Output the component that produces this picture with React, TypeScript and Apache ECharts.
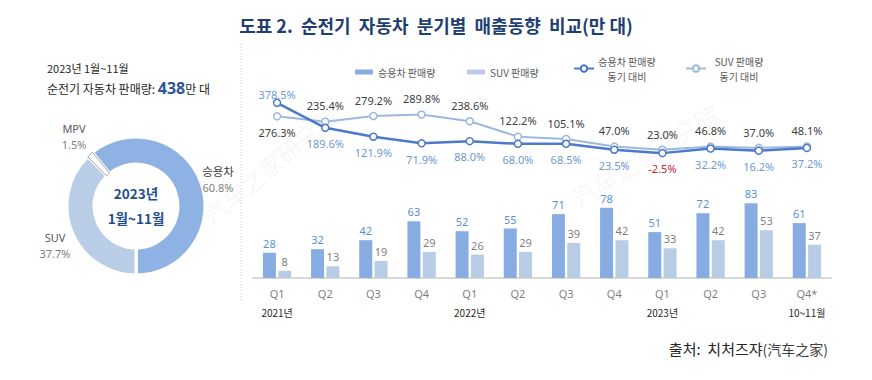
import React, { useEffect, useRef } from "react";
import * as echarts from "echarts";

const titleText = "도표 2.  순전기  자동차  분기별  매출동향  비교(만 대)";
const categories = ["Q1", "Q2", "Q3", "Q4", "Q1", "Q2", "Q3", "Q4", "Q1", "Q2", "Q3", "Q4*"];
const yearLabels = ["2021년", "", "", "", "2022년", "", "", "", "2023년", "", "", "10~11월"];
const passengerSales = [28, 32, 42, 63, 52, 55, 71, 78, 51, 72, 83, 61];
const suvSales = [8, 13, 19, 29, 26, 29, 39, 42, 33, 42, 53, 37];
const passengerYoY = [378.5, 189.6, 121.9, 71.9, 88.0, 68.0, 68.5, 23.5, -2.5, 32.2, 16.2, 37.2];
const suvYoY = [276.3, 235.4, 279.2, 289.8, 238.6, 122.2, 105.1, 47.0, 23.0, 46.8, 37.0, 48.1];
const shareNames = ["승용차", "SUV", "MPV"];
const shareValues = [60.8, 37.7, 1.5];
const seriesNames = ["승용차 판매량", "SUV 판매량", "승용차 판매량\n동기 대비", "SUV 판매량\n동기 대비"];

const FONT = "'Noto Sans', 'Noto Sans CJK KR', sans-serif";
const KR = "'Noto Sans CJK KR', sans-serif";

export default function App() {
  const ref = useRef<HTMLDivElement>(null);
  useEffect(() => {
    if (!ref.current) return;
    const chart = echarts.init(ref.current, null, { renderer: "svg" });
    const pieColors = ["#8db2e3", "#b9cde6", "#ffffff"];
    const pieLabelPos = [
      { x: 218, y: 179 },
      { x: 55, y: 245 },
      { x: 74, y: 136 },
    ];
    const legendBase = {
      textStyle: { fontFamily: KR, fontSize: 10, color: "#595959" },
      selectedMode: false,
      orient: "horizontal",
    };
    const lineLegendFmt = (name: string) => {
      const parts = name.split("\n");
      return `{a|${parts[0]}}\n{a|${parts[1]}}`;
    };
    const lineLegendText = {
      fontFamily: KR,
      fontSize: 10,
      color: "#595959",
      rich: { a: { width: 56, align: "center", fontFamily: KR, fontSize: 10, color: "#595959", lineHeight: 15 } },
    };
    const option: any = {
      animation: false,
      backgroundColor: "#ffffff",
      textStyle: { fontFamily: FONT },
      title: {
        text: titleText,
        left: "center",
        top: 11,
        textStyle: { fontFamily: KR, fontSize: 18, fontWeight: "bold", color: "#1f3f73" },
      },
      legend: [
        { ...legendBase, left: 350, top: 62, itemWidth: 18, itemHeight: 5, data: [seriesNames[0]] },
        { ...legendBase, left: 462, top: 62, itemWidth: 18, itemHeight: 5, data: [seriesNames[1]] },
        { ...legendBase, left: 568, top: 51, itemWidth: 20, itemHeight: 8, data: [seriesNames[2]], formatter: lineLegendFmt, textStyle: lineLegendText },
        { ...legendBase, left: 680, top: 51, itemWidth: 20, itemHeight: 8, data: [seriesNames[3]], formatter: lineLegendFmt, textStyle: lineLegendText },
      ],
      grid: [
        { left: 253, width: 578, top: 100, height: 59.4 },
        { left: 253, width: 578, top: 188, height: 90 },
      ],
      xAxis: [
        { type: "category", gridIndex: 0, data: categories, show: false },
        {
          type: "category",
          gridIndex: 1,
          data: categories,
          axisTick: { show: false },
          axisLine: { lineStyle: { color: "#d9d9d9", width: 2 } },
          axisLabel: {
            interval: 0,
            margin: 8,
            formatter: (v: string, i: number) => (yearLabels[i] ? `{q|${v}}\n{y|${yearLabels[i]}}` : `{q|${v}}`),
            rich: {
              q: { fontFamily: FONT, fontSize: 11, color: "#7f7f7f", lineHeight: 14 },
              y: { fontFamily: KR, fontSize: 10, color: "#262626", lineHeight: 24 },
            },
          },
        },
      ],
      yAxis: [
        { type: "value", gridIndex: 0, min: -50, max: 400, show: false, splitLine: { show: false } },
        { type: "value", gridIndex: 1, min: 0, max: 100, show: false, splitLine: { show: false } },
      ],
      series: [
        {
          name: seriesNames[0],
          type: "bar",
          xAxisIndex: 1,
          yAxisIndex: 1,
          data: passengerSales,
          barWidth: 13,
          barGap: "18%",
          itemStyle: { color: "#86ace2" },
          label: { show: true, position: "top", distance: 4, fontFamily: FONT, fontSize: 11, color: "#5b8fd6" },
        },
        {
          name: seriesNames[1],
          type: "bar",
          xAxisIndex: 1,
          yAxisIndex: 1,
          data: suvSales,
          barWidth: 13,
          itemStyle: { color: "#b8cce6" },
          label: { show: true, position: "top", distance: 4, fontFamily: FONT, fontSize: 11, color: "#7f7f7f" },
        },
        {
          name: seriesNames[3],
          type: "line",
          xAxisIndex: 0,
          yAxisIndex: 0,
          data: suvYoY.map((v, i) => (i === 0 ? { value: v, label: { position: "bottom" } } : v)),
          symbol: "circle",
          symbolSize: 7,
          lineStyle: { color: "#9db8df", width: 2 },
          itemStyle: { color: "#ffffff", borderColor: "#9db8df", borderWidth: 1.5 },
          label: {
            show: true,
            position: "top",
            distance: 6,
            fontFamily: FONT,
            fontSize: 11,
            color: "#404040",
            formatter: (p: any) => `${Number(p.value).toFixed(1)}%`,
          },
        },
        {
          name: seriesNames[2],
          type: "line",
          xAxisIndex: 0,
          yAxisIndex: 0,
          data: passengerYoY.map((v, i) =>
            i === 0
              ? { value: v, label: { position: "top", distance: -1 } }
              : v < 0
              ? { value: v, label: { color: "#c0282d" } }
              : v
          ),
          symbol: "circle",
          symbolSize: 7,
          lineStyle: { color: "#4a7ac8", width: 2.5 },
          itemStyle: { color: "#ffffff", borderColor: "#4a7ac8", borderWidth: 1.5 },
          label: {
            show: true,
            position: "bottom",
            distance: 6,
            fontFamily: FONT,
            fontSize: 11,
            color: "#6f98d4",
            formatter: (p: any) => `${Number(p.value).toFixed(1)}%`,
          },
        },
        {
          type: "pie",
          center: [136, 206],
          radius: [42, 69],
          startAngle: 129,
          clockwise: true,
          silent: true,
          itemStyle: { borderColor: "#ffffff", borderWidth: 3 },
          labelLine: { show: false },
          label: {
            show: true,
            position: "outside",
            overflow: "none",
            bleedMargin: 0,
            formatter: (p: any) =>
              p.dataIndex === 0
                ? `{big|${p.name}}\n{pct|${Number(p.value).toFixed(1)}%}`
                : `{nm|${p.name}}\n{pct|${Number(p.value).toFixed(1)}%}`,
            rich: {
              big: { fontFamily: KR, fontSize: 11.5, color: "#404040", lineHeight: 17, align: "center" },
              nm: { fontFamily: FONT, fontSize: 11, color: "#595959", lineHeight: 16, align: "center" },
              pct: { fontFamily: FONT, fontSize: 11, color: "#7f7f7f", lineHeight: 16, align: "center" },
            },
          },
          labelLayout: (params: any) => ({
            x: pieLabelPos[params.dataIndex].x,
            y: pieLabelPos[params.dataIndex].y,
            align: "center",
            verticalAlign: "middle",
            width: 60,
          }),
          data: shareNames.map((n, i) => ({
            name: n,
            value: shareValues[i],
            itemStyle:
              i === 2
                ? { color: pieColors[i], borderColor: "#a6a6a6", borderWidth: 1 }
                : { color: pieColors[i] },
          })),
        },
      ],
      graphic: [
        {
          type: "text",
          left: 47,
          top: 62,
          style: { text: "2023년 1월~11월", fontFamily: KR, fontSize: 11, fill: "#262626" },
        },
        {
          type: "text",
          left: 47,
          top: 80,
          style: {
            text: "{a|순전기 자동차 판매량: }{b|438}{a|만 대}",
            rich: {
              a: { fontFamily: KR, fontSize: 12, fill: "#262626", lineHeight: 20 },
              b: { fontFamily: FONT, fontSize: 16, fontWeight: "bold", fill: "#2f5597", lineHeight: 20 },
            },
          },
        },
        {
          type: "text",
          x: 136,
          y: 205,
          style: {
            text: "2023년\n1월~11월",
            align: "center",
            verticalAlign: "middle",
            fontFamily: KR,
            fontSize: 13.5,
            fontWeight: "bold",
            fill: "#1f4e8c",
            lineHeight: 25,
          },
        },
        {
          type: "line",
          shape: { x1: 241, y1: 44, x2: 241, y2: 300 },
          style: { stroke: "#d0d0d0", lineWidth: 1, lineDash: [1, 2] },
        },
        {
          type: "text",
          x: 270,
          y: 165,
          rotation: (40 * Math.PI) / 180,
          style: {
            text: "汽车之家研究院",
            align: "center",
            verticalAlign: "middle",
            fontFamily: "'Noto Sans CJK SC', sans-serif",
            fontSize: 24,
            fill: "rgba(0,0,0,0.05)",
          },
          silent: true,
        },
        {
          type: "text",
          x: 645,
          y: 155,
          rotation: (32 * Math.PI) / 180,
          style: {
            text: "汽车之家研究院",
            align: "center",
            verticalAlign: "middle",
            fontFamily: "'Noto Sans CJK SC', sans-serif",
            fontSize: 24,
            fill: "rgba(0,0,0,0.05)",
          },
          silent: true,
        },
        {
          type: "text",
          right: 44,
          top: 341,
          style: {
            text: "{a|출처:  치처즈쟈}{b|(汽车之家)}",
            rich: {
              a: { fontFamily: KR, fontSize: 15, fill: "#262626" },
              b: { fontFamily: "'Noto Sans CJK SC', sans-serif", fontSize: 14, fill: "#404040" },
            },
          },
        },
      ],
    };
    chart.setOption(option);
    return () => chart.dispose();
  }, []);
  return (
    <div
      ref={ref}
      style={{ position: "fixed", left: 0, top: 0, width: 872, height: 380, background: "#ffffff" }}
    />
  );
}
